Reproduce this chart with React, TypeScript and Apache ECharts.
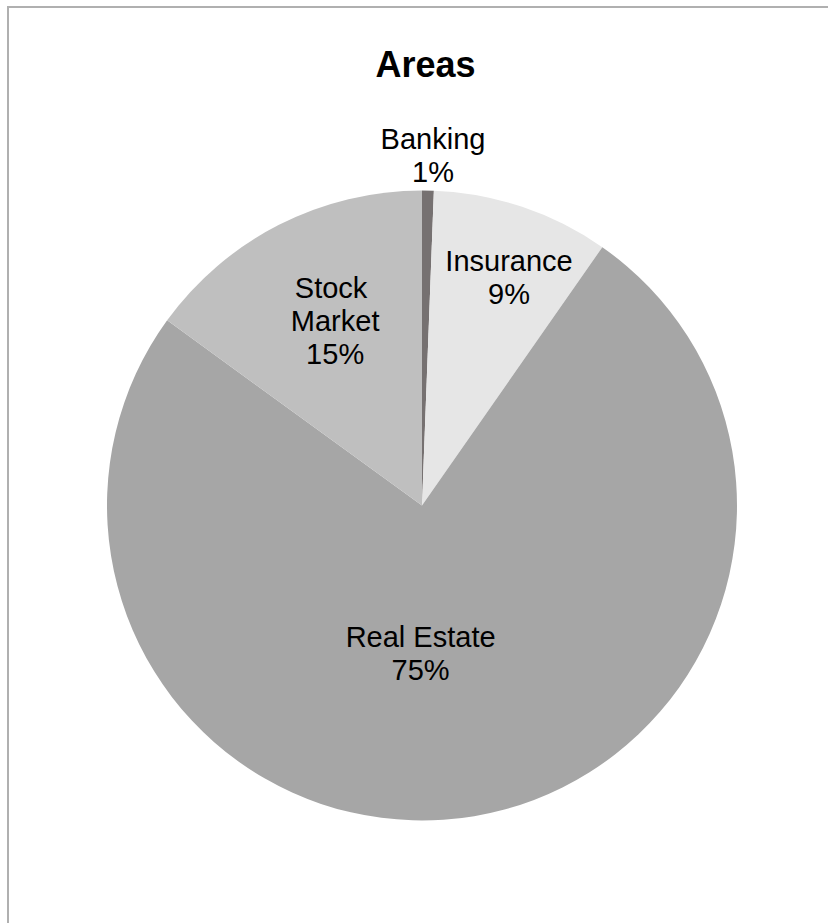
import React, { useEffect, useRef } from "react";
import * as echarts from "echarts";

const categories = ["Banking", "Insurance", "Real Estate", "Stock Market"];
const values = [0.6, 9.1, 75.3, 15.0];
const colors = ["#767171", "#e6e6e6", "#a6a6a6", "#bfbfbf"];
const labelShift = [
  [8, -190],
  [36, -76],
  [-28, -10],
  [-14, -41],
];

export default function App() {
  const ref = useRef<HTMLDivElement>(null);
  useEffect(() => {
    if (!ref.current) return;
    const chart = echarts.init(ref.current, null, { renderer: "svg" });
    const font = "'Liberation Sans', Arial, sans-serif";
    chart.setOption({
      animation: false,
      backgroundColor: "#ffffff",
      title: {
        text: "Areas",
        left: 420.5,
        top: 41,
        textAlign: "center",
        textStyle: {
          fontFamily: font,
          fontWeight: "bold",
          fontSize: 36,
          color: "#000000",
        },
      },
      graphic: [
        {
          type: "rect",
          shape: { x: 8, y: 7, width: 900, height: 1000 },
          style: { fill: "none", stroke: "#b0b0b0", lineWidth: 2 },
          silent: true,
        },
      ],
      series: [
        {
          type: "pie",
          center: [422, 505.5],
          radius: [0, 315],
          startAngle: 90,
          clockwise: true,
          avoidLabelOverlap: false,
          data: categories.map((name, i) => ({
            name,
            value: values[i],
            itemStyle: { color: colors[i] },
            label:
              i === 3
                ? { width: 110, overflow: "break" }
                : {},
          })),
          label: {
            show: true,
            position: "inside",
            fontFamily: font,
            fontSize: 29,
            lineHeight: 33,
            color: "#000000",
            formatter: (p: any) => `${p.name}\n${Math.round(p.percent)}%`,
          },
          labelLine: { show: false },
          labelLayout: (params: any) => {
            const s = labelShift[params.dataIndex];
            return { dx: s[0], dy: s[1] };
          },
        },
      ],
    });
    return () => chart.dispose();
  }, []);
  return (
    <div
      ref={ref}
      style={{ position: "fixed", left: 0, top: 0, width: 828, height: 923 }}
    />
  );
}
